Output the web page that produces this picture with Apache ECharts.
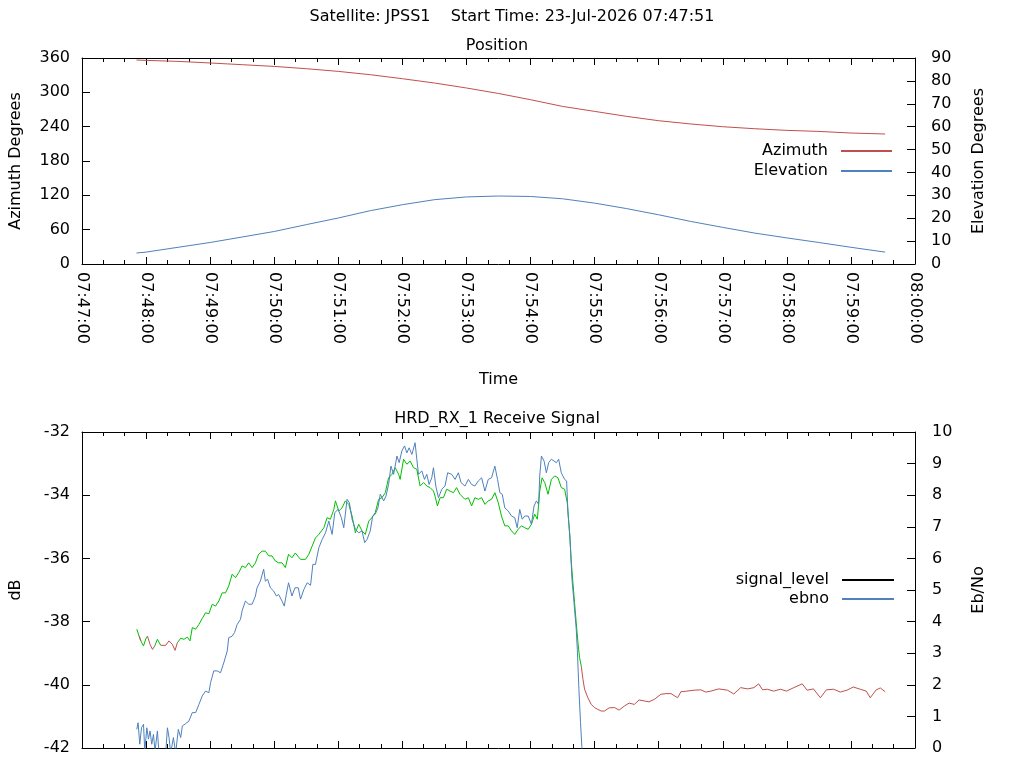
<!DOCTYPE html>
<html><head><meta charset="utf-8">
<script src="https://cdn.jsdelivr.net/npm/echarts@6/dist/echarts.min.js"></script>
<style>html,body{margin:0;padding:0;background:#fff}#c{width:1024px;height:768px}</style>
</head><body><div id="c"></div>
<script>
// time offsets are seconds after 07:47:00
const timeTickLabels = ['07:47:00','07:48:00','07:49:00','07:50:00','07:51:00','07:52:00','07:53:00','07:54:00','07:55:00','07:56:00','07:57:00','07:58:00','07:59:00','08:00:00'];

const posSec    = [51,60,90,120,150,180,210,240,270,300,330,360,390,420,450,480,510,540,570,600,630,660,690,720,752];
const azimuth   = [356.5,355.8,354.1,351.3,348.3,345.3,341.3,336.6,330.8,323.8,316.3,307.6,298.0,287.1,275.4,266.7,258.0,250.4,244.7,239.9,236.4,233.5,231.7,228.9,227.2];
const elevation = [4.8,5.2,7.3,9.4,11.8,14.2,17.2,20.1,23.3,25.9,28.1,29.3,29.7,29.5,28.5,26.6,24.2,21.5,18.6,16.0,13.5,11.4,9.4,7.3,5.2];

const sigSec = [51.3,53.5,55.1,57.6,59.7,61.3,63.7,66.0,68.1,70.6,
73.7,78.4,81.5,84.6,87.1,89.3,92.4,95.5,98.6,101.1,
103.3,106.4,109.5,112.6,115.7,118.8,122.0,125.0,128.1,131.3,
134.4,137.4,140.6,143.7,146.8,149.9,153.0,156.1,159.3,162.4,
165.4,168.6,171.7,174.8,177.9,181.0,184.1,187.3,190.4,193.4,
196.6,199.7,204.6,209.3,212.4,215.5,218.6,221.8,226.5,229.5,
232.6,235.8,237.3,240.5,243.5,246.6,249.8,252.9,256.0,259.1,
262.2,265.3,268.5,271.5,274.6,277.8,280.9,284.0,287.1,290.2,
293.3,296.5,297.9,301.1,304.2,307.3,310.4,313.5,316.6,319.8,
322.9,325.9,329.1,330.6,332.8,335.3,338.4,341.5,344.6,347.8,
350.8,353.9,355.5,358.6,361.8,364.8,367.9,371.1,374.2,377.3,
380.4,383.5,386.6,389.8,392.8,395.9,399.1,402.2,405.2,408.4,
411.5,414.6,417.8,420.8,423.9,426.4,428.6,430.8,433.3,436.4,
439.5,442.6,445.7,448.8,451.9,454.4,455.6,456.9,458.2,459.7,
461.2,462.8,464.4,465.9,467.5,469.1,470.6,473.7,476.8,479.9,
483.1,486.1,489.2,493.6,498.6,502.9,507.9,512.3,517.2,521.6,
526.5,530.9,535.9,542.1,546.8,551.5,557.7,560.8,566.4,573.2,
579.5,584.1,588.8,596.3,604.4,610.3,616.8,623.3,629.2,633.6,
637.3,641.7,647.6,654.1,659.7,666.5,674.4,679.0,684.9,691.4,
697.0,703.8,710.1,716.3,722.2,728.7,734.3,738.1,743.7,747.5,
752.1];
const sigDb = [-38.24,-38.46,-38.61,-38.77,-38.55,-38.46,-38.72,-38.88,-38.77,-38.56,
-38.75,-38.75,-38.61,-38.72,-38.91,-38.67,-38.53,-38.56,-38.49,-38.61,
-38.19,-38.24,-38.09,-37.90,-37.72,-37.75,-37.45,-37.51,-37.35,-37.09,
-37.09,-36.87,-36.50,-36.61,-36.45,-36.24,-36.29,-36.14,-36.29,-36.14,
-35.87,-35.77,-35.77,-35.92,-35.92,-36.08,-36.14,-36.14,-36.29,-35.87,
-35.98,-35.83,-36.03,-36.03,-35.87,-35.61,-35.35,-35.24,-35.03,-34.71,
-34.76,-34.45,-34.18,-34.50,-34.40,-34.18,-34.29,-34.66,-35.19,-34.92,
-35.13,-35.24,-34.82,-34.71,-34.55,-34.13,-34.08,-33.92,-33.45,-33.34,
-33.13,-33.34,-33.50,-32.86,-33.02,-32.92,-33.13,-33.18,-33.71,-33.60,
-33.71,-33.76,-33.87,-34.03,-34.34,-34.08,-34.08,-33.81,-33.87,-33.92,
-33.76,-33.97,-34.03,-34.13,-34.08,-34.34,-34.08,-34.13,-34.08,-34.29,
-34.18,-34.13,-33.92,-34.24,-34.66,-34.97,-34.97,-35.13,-35.24,-35.08,
-34.97,-35.03,-35.08,-34.92,-34.60,-34.76,-33.87,-33.45,-33.60,-33.97,
-33.50,-33.39,-33.45,-33.76,-33.81,-34.24,-34.76,-35.40,-36.14,-36.77,
-37.40,-38.03,-38.67,-39.14,-39.41,-39.83,-40.14,-40.41,-40.62,-40.72,
-40.78,-40.83,-40.83,-40.73,-40.72,-40.80,-40.67,-40.58,-40.62,-40.48,
-40.51,-40.54,-40.46,-40.30,-40.28,-40.28,-40.41,-40.22,-40.20,-40.17,
-40.16,-40.23,-40.20,-40.13,-40.17,-40.29,-40.09,-40.13,-40.09,-39.97,
-40.16,-40.14,-40.20,-40.14,-40.20,-40.09,-39.97,-40.17,-40.13,-40.41,
-40.16,-40.14,-40.23,-40.17,-40.07,-40.14,-40.20,-40.41,-40.16,-40.10,
-40.22];

const ebSec = [51.3,52.5,54.1,55.7,57.6,58.8,60.7,62.2,63.7,65.3,
66.9,68.4,70.6,72.1,75.6,78.4,80.0,81.5,83.0,85.6,
87.7,90.2,92.4,94.0,97.0,100.1,103.3,106.4,109.5,112.6,
115.7,118.8,120.4,123.4,126.6,129.7,132.8,136.0,137.4,140.6,
142.8,145.3,148.4,149.9,153.0,156.1,159.3,162.4,163.9,167.0,
170.1,171.7,173.8,176.4,179.4,182.0,184.1,187.3,189.4,191.3,
193.4,196.6,199.4,202.5,204.6,207.8,210.9,214.0,216.2,218.6,
221.8,224.9,228.0,231.1,234.2,236.7,239.8,242.9,245.1,248.2,
250.4,252.9,256.0,259.1,262.2,264.7,266.9,269.9,272.2,274.6,
277.1,279.3,282.5,284.6,287.1,289.3,291.8,294.9,297.0,299.5,
302.0,304.2,306.3,308.9,311.9,313.5,315.1,318.2,320.7,322.9,
325.0,327.5,329.1,331.3,333.8,336.9,339.9,342.4,346.2,349.3,
352.4,354.9,358.6,361.8,364.8,367.9,371.1,374.2,377.3,380.4,
383.5,386.6,389.1,391.3,393.5,395.9,399.1,402.2,405.2,407.5,
409.9,412.2,414.6,417.8,420.8,423.3,425.5,427.6,428.6,430.2,
432.7,434.8,437.0,439.5,442.0,444.2,446.3,448.8,451.9,453.8,
455.1,456.9,458.8,460.7,462.8,463.8,465.3,466.8,468.1,469.3,
471.2];
const ebVal = [0.59,0.80,0.12,0.64,0.75,-0.10,0.64,0.28,0.54,0.12,
0.43,-0.10,0.54,-0.16,-0.25,-0.16,0.64,0.33,-0.16,0.33,
-0.16,0.59,0.33,0.70,0.77,0.85,1.12,1.12,1.38,1.65,
1.80,1.75,2.07,2.44,2.44,2.38,2.70,3.07,3.49,3.54,
3.65,3.91,4.07,4.34,4.65,4.55,4.55,4.81,5.07,5.28,
5.66,5.28,5.34,5.07,4.97,4.81,4.86,4.65,4.49,4.86,
5.23,4.81,5.07,5.07,4.71,5.02,5.23,5.15,5.81,5.81,
6.34,6.60,6.81,7.18,6.76,7.45,7.55,7.29,6.97,7.87,
7.76,7.24,6.92,6.81,6.87,6.50,6.60,6.87,7.34,7.40,
7.60,8.03,7.82,7.97,8.34,8.92,8.66,9.24,9.03,9.40,
9.56,9.34,9.50,9.29,9.66,9.14,8.66,8.77,8.50,8.66,
8.34,8.55,8.87,8.29,7.92,8.19,8.29,8.71,8.66,8.50,
8.71,8.40,8.29,8.50,8.34,8.29,8.45,8.55,8.13,8.50,
8.55,8.92,8.50,8.08,8.03,7.60,7.50,7.34,7.29,6.97,
7.55,7.24,7.34,7.34,7.08,7.66,7.82,7.71,8.61,9.24,
9.08,8.71,9.03,9.14,9.08,9.03,9.14,8.71,8.50,8.45,
7.40,6.71,5.34,4.60,3.76,3.12,1.86,0.80,0.01,-0.73,
-1.40];

// signal segments drawn red (not locked); the rest is green
const unlockedIntervals = [[52.5,55.5],[62.5,67.5],[72.5,80.5],[82.5,88.5],[467,800]];

const RED = '#c0504d', BLUE = '#4f81bd', GREEN = '#00c000';
const FONT = 'DejaVu Sans';
const txt = {color:'#000', fontFamily:FONT, fontSize:16};

function zip(a,b){ const n=Math.min(a.length,b.length); const r=[]; for(let i=0;i<n;i++) r.push([a[i],b[i]]); return r; }
function isUnlocked(t){ return unlockedIntervals.some(iv => t>=iv[0] && t<iv[1]); }

// split the signal into locked (green) and unlocked (red) runs, sharing boundary points
const nSig = Math.min(sigSec.length, sigDb.length);
const lockedData = new Array(nSig).fill(null);
const unlockedData = new Array(nSig).fill(null);
for (let i = 0; i < nSig - 1; i++) {
  const target = isUnlocked((sigSec[i] + sigSec[i+1]) / 2) ? unlockedData : lockedData;
  target[i] = [sigSec[i], sigDb[i]];
  target[i+1] = [sigSec[i+1], sigDb[i+1]];
}

function xAxisCfg(grid, pos, labels, extra){
  return Object.assign({
    type:'value', gridIndex:grid, position:pos, min:0, max:780, interval:60,
    axisLine:{show:true, onZero:false, lineStyle:{color:'#000', width:1}},
    axisTick:{show:true, inside:true, length:7, lineStyle:{color:'#000'}},
    minorTick:{show:true, splitNumber:3, length:4, lineStyle:{color:'#000'}},
    splitLine:{show:false}, minorSplitLine:{show:false},
    axisLabel:{show:labels, rotate:-90, margin:8, formatter:v=>timeTickLabels[Math.round(v/60)], ...txt}
  }, extra||{});
}
function yAxisCfg(grid, pos, min, max, interval, name, gap, margin){
  return {
    type:'value', gridIndex:grid, position:pos, min, max, interval,
    name, nameLocation:'middle', nameGap:gap, nameRotate:90, nameTextStyle:txt,
    axisLine:{show:true, onZero:false, lineStyle:{color:'#000', width:1}},
    axisTick:{show:true, inside:true, length:8, lineStyle:{color:'#000'}},
    splitLine:{show:false},
    axisLabel:{margin, ...txt}
  };
}

const legendCommon = {orient:'vertical', align:'right', padding:0, itemHeight:15, selectedMode:false,
  itemStyle:{opacity:0}, textStyle:{...txt, padding:[0,8,0,0]}};

const chart = echarts.init(document.getElementById('c'));
chart.setOption({
  animation:false,
  backgroundColor:'#fff',
  title:[
    {text:'Satellite: JPSS1    Start Time: 23-Jul-2026 07:47:51', left:'center', top:9, padding:0, textStyle:{...txt, fontWeight:'normal'}},
    {text:'Position', left:497, textAlign:'center', top:38, padding:0, textStyle:{...txt, fontWeight:'normal'}},
    {text:'HRD_RX_1 Receive Signal', left:497, textAlign:'center', top:411, padding:0, textStyle:{...txt, fontWeight:'normal'}}
  ],
  grid:[
    {left:79, top:58, width:836, height:206},
    {left:79, top:432, width:836, height:316}
  ],
  legend:[
    Object.assign({}, legendCommon, {data:['Azimuth','Elevation'], right:131, top:143, itemWidth:51, itemGap:4}),
    Object.assign({}, legendCommon, {data:['signal_level','ebno'], right:129, top:572, itemWidth:52, itemGap:3})
  ],
  xAxis:[
    xAxisCfg(0,'bottom',true,{name:'Time', nameLocation:'middle', nameGap:108, nameTextStyle:txt}),
    xAxisCfg(0,'top',false),
    xAxisCfg(1,'bottom',false),
    xAxisCfg(1,'top',false)
  ],
  yAxis:[
    yAxisCfg(0,'left',0,360,60,'Azimuth Degrees',58,12),
    yAxisCfg(0,'right',0,90,10,'Elevation Degrees',56,16),
    yAxisCfg(1,'left',-42,-32,2,'dB',58,12),
    yAxisCfg(1,'right',0,10,1,'Eb/No',56,17)
  ],
  series:[
    {name:'Azimuth', type:'line', xAxisIndex:0, yAxisIndex:0, data:zip(posSec,azimuth), symbol:'none',
     lineStyle:{width:1, color:RED}, itemStyle:{color:RED}},
    {name:'Elevation', type:'line', xAxisIndex:0, yAxisIndex:1, data:zip(posSec,elevation), symbol:'none',
     lineStyle:{width:1, color:BLUE}, itemStyle:{color:BLUE}},
    // legend entry for the signal (drawn in black in the key)
    {name:'signal_level', type:'line', xAxisIndex:2, yAxisIndex:2, data:[], symbol:'none',
     lineStyle:{width:1, color:'#000'}, itemStyle:{color:'#000'}},
    {name:'signal_level (locked)', type:'line', xAxisIndex:2, yAxisIndex:2, data:lockedData, symbol:'none', connectNulls:false,
     lineStyle:{width:1, color:GREEN}, itemStyle:{color:GREEN}},
    {name:'signal_level (unlocked)', type:'line', xAxisIndex:2, yAxisIndex:2, data:unlockedData, symbol:'none', connectNulls:false,
     lineStyle:{width:1, color:RED}, itemStyle:{color:RED}},
    {name:'ebno', type:'line', xAxisIndex:2, yAxisIndex:3, data:zip(ebSec,ebVal), symbol:'none', clip:true,
     lineStyle:{width:1, color:BLUE}, itemStyle:{color:BLUE}}
  ]
});
</script></body></html>
